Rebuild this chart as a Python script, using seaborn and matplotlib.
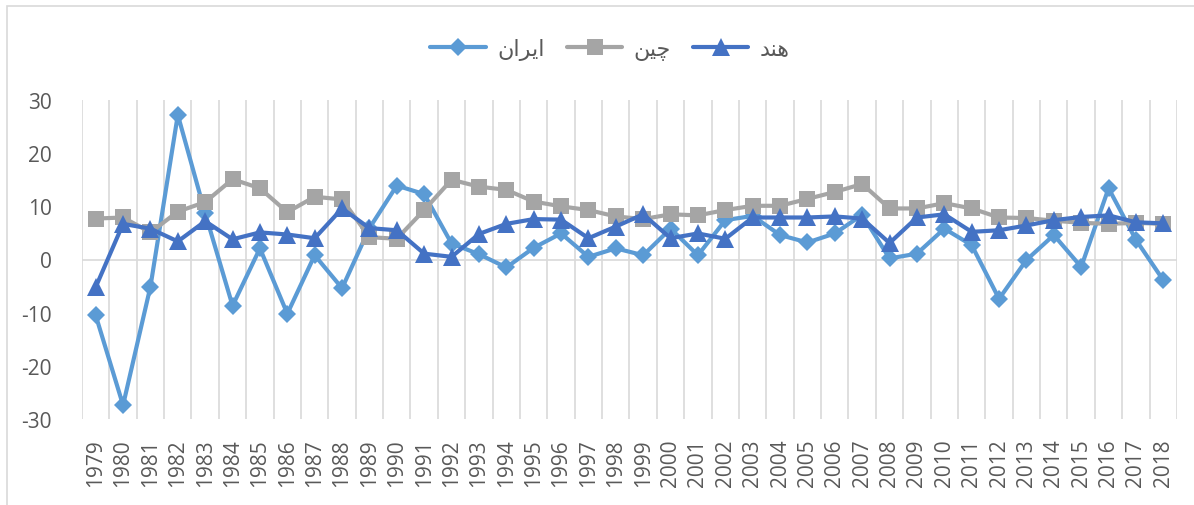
import pandas as pd
import seaborn as sns
import matplotlib.pyplot as plt
from matplotlib.patches import Rectangle
from matplotlib.ticker import MultipleLocator

years = list(range(1979, 2019))

iran = [-10.5, -27.4, -5.1, 27.2, 8.7, -8.7, 2.1, -10.2, 0.8, -5.4,
        5.9, 13.9, 12.3, 3.0, 1.0, -1.5, 2.2, 4.9, 0.5, 2.1,
        0.8, 5.8, 0.8, 7.4, 8.2, 4.6, 3.2, 4.9, 8.4, 0.2,
        1.1, 5.8, 2.7, -7.4, -0.1, 4.6, -1.4, 13.4, 3.7, -3.9]
china = [7.7, 7.9, 5.1, 9.0, 10.8, 15.1, 13.4, 8.9, 11.8, 11.3,
         4.2, 3.9, 9.3, 15.0, 13.7, 13.1, 10.9, 10.0, 9.3, 8.1,
         7.6, 8.5, 8.3, 9.3, 10.1, 10.1, 11.4, 12.7, 14.2, 9.6,
         9.6, 10.6, 9.6, 7.9, 7.8, 7.3, 6.9, 6.7, 6.9, 6.7]
india = [-5.2, 6.7, 5.8, 3.4, 7.2, 3.8, 5.1, 4.7, 4.0, 9.6,
         5.9, 5.5, 1.1, 0.5, 4.8, 6.7, 7.6, 7.5, 4.0, 6.2,
         8.5, 4.0, 4.9, 3.9, 7.9, 7.9, 7.9, 8.1, 7.7, 3.1,
         7.9, 8.5, 5.2, 5.5, 6.4, 7.4, 8.0, 8.3, 7.0, 6.8]

# legend names (ایران, چین, هند) written in shaped presentation forms, visual order
names = ['\ufee5\ufe8d\ufeae\ufbfe\ufe8d', '\ufee6\ufbff\ufb7c', '\ufeaa\ufee8\ufeeb']

series = [
    (iran, names[0], '#5B9BD5', 'D', 9.5),
    (china, names[1], '#A5A5A5', 's', 11.5),
    (india, names[2], '#4472C4', '^', 13),
]

sns.set_style('white')
plt.rcParams['font.family'] = ['Open Sans', 'DejaVu Sans']
plt.rcParams['axes.unicode_minus'] = False

fig = plt.figure(figsize=(11.94, 5.06), dpi=100)
ax = fig.add_axes([82 / 1194, 1 - 420 / 506, (1177 - 82) / 1194, (420 - 101) / 506])

for vals, name, col, mk, ms in series:
    sns.lineplot(x=years, y=vals, ax=ax, color=col, lw=3, marker=mk,
                 markersize=ms, markeredgecolor=col, markeredgewidth=0,
                 label=name)

ax.set_xlim(1978.5, 2018.5)
ax.set_ylim(-30, 30)
ax.set_yticks([-30, -20, -10, 0, 10, 20, 30])
ax.set_xticks(years)
ax.set_xticklabels([str(y) for y in years], rotation=90, va='top')
ax.xaxis.set_minor_locator(MultipleLocator(1, offset=0.5))
ax.grid(which='minor', axis='x', color='#D9D9D9', lw=1.2)
ax.set_axisbelow(True)
ax.axhline(0, color='#D9D9D9', lw=1.2, zorder=0.5)
ax.tick_params(axis='both', which='both', length=0, labelsize=15, colors='#595959')
ax.tick_params(axis='y', pad=22)
ax.tick_params(axis='x', pad=14)
for s in ax.spines.values():
    s.set_visible(False)
ax.set_xlabel('')
ax.set_ylabel('')

handles, labels = ax.get_legend_handles_labels()
ax.get_legend().remove()
fig.legend(handles, labels, loc='center', bbox_to_anchor=(610 / 1194, 1 - 50 / 506),
           ncol=3, frameon=False, fontsize=16, handlelength=2.5,
           handletextpad=0.5, columnspacing=1.0, labelcolor='#595959')

fig.patches.append(Rectangle((7 / 1194, -0.02), 1.05, 1 - 7 / 506 + 0.02,
                             transform=fig.transFigure, fill=False,
                             edgecolor='#D9D9D9', lw=1.2))

fig.savefig('out.png', dpi=100)
